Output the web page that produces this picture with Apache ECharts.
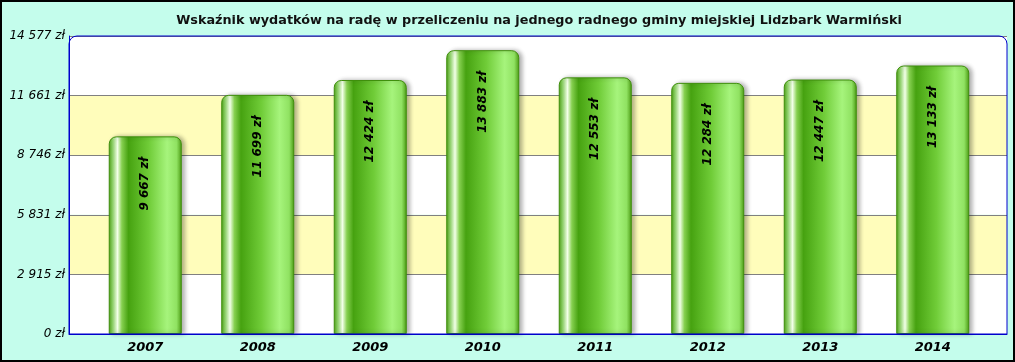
<!DOCTYPE html>
<html><head><meta charset="utf-8">
<script src="https://cdn.jsdelivr.net/npm/echarts@6/dist/echarts.min.js"></script>
<style>html,body{margin:0;padding:0;background:#c4fdec;}#c{width:1015px;height:362px;}</style>
</head><body><div id="c"></div>
<script>
const titleText = 'Wskaźnik wydatków na radę w przeliczeniu na jednego radnego gminy miejskiej Lidzbark Warmiński';
const categories = ['2007','2008','2009','2010','2011','2012','2013','2014'];
const values = [9667, 11699, 12424, 13883, 12553, 12284, 12447, 13133];
const yMax = 14576.6;
const ySteps = 5;

function fmt(v){
  return String(Math.round(v)).replace(/\B(?=(\d{3})+(?!\d))/g, ' ') + ' zł';
}

const G = {left:69, right:8, top:36, bottom:28};
const G2 = {left:89, right:26, top:36, bottom:28};
const chart = echarts.init(document.getElementById('c'), null, {renderer:'canvas'});
chart.setOption({
  backgroundColor:'#c4fdec',
  animation:false,
  title:{text:titleText, left:534, textAlign:'center', top:9,
    textStyle:{fontFamily:'DejaVu Sans', fontSize:12.8, fontWeight:'bold', color:'#111'}},
  grid:[G, G2],
  xAxis:[
    {gridIndex:0, type:'category', data:categories,
      axisLine:{show:true, lineStyle:{color:'#0000cc', width:1}},
      axisTick:{show:false}, axisLabel:{show:false}},
    {gridIndex:1, type:'category', data:categories,
      axisLine:{show:false}, axisTick:{show:false},
      axisLabel:{fontFamily:'DejaVu Sans', fontSize:13, fontWeight:'bold', fontStyle:'italic', color:'#000', margin:7}}
  ],
  yAxis:[
    {gridIndex:0, type:'value', min:0, max:yMax, interval:yMax/ySteps,
      axisLine:{show:true, lineStyle:{color:'#0000cc'}},
      axisTick:{show:false},
      axisLabel:{fontFamily:'DejaVu Sans', fontSize:12, fontStyle:'italic', color:'#000', margin:4, formatter:fmt},
      splitLine:{show:true, lineStyle:{color:'#808080', width:1}},
      splitArea:{show:true, areaStyle:{color:['#ffffff','#fffdbb']}}},
    {gridIndex:1, type:'value', min:0, max:yMax, interval:yMax/ySteps,
      axisLine:{show:false}, axisTick:{show:false}, axisLabel:{show:false}, splitLine:{show:false}}
  ],
  graphic:[
    {type:'rect', z:100, silent:true, shape:{x:G.left, y:G.top, width:1015-G.left-G.right, height:362-G.top-G.bottom, r:[8,8,0,0]},
      style:{fill:'none', stroke:'#0000cc', lineWidth:1}},
    {type:'rect', z:100, silent:true, shape:{x:1, y:1, width:1013, height:360},
      style:{fill:'none', stroke:'#000', lineWidth:2}}
  ],
  series:[{type:'bar', xAxisIndex:1, yAxisIndex:1, data:values, barWidth:73,
    itemStyle:{borderRadius:[7,7,0,0],
      color:new echarts.graphic.LinearGradient(0,0,1,0,[
        {offset:0, color:'#4c9e14'},
        {offset:0.05, color:'#90d868'},
        {offset:0.12, color:'#f2ffe8'},
        {offset:0.18, color:'#86d050'},
        {offset:0.27, color:'#46a210'},
        {offset:0.55, color:'#70cc38'},
        {offset:0.8, color:'#a6f47c'},
        {offset:0.93, color:'#90e262'},
        {offset:1, color:'#4a9a12'}]),
      borderColor:'#3f8f0c', borderWidth:1,
      shadowColor:'rgba(0,0,0,0.3)', shadowBlur:4, shadowOffsetX:3, shadowOffsetY:0},
    label:{show:true, position:'insideTop', distance:21, rotate:90, align:'right', verticalAlign:'middle',
      formatter:p=>fmt(p.value),
      fontFamily:'DejaVu Sans', fontSize:12, fontWeight:'bold', fontStyle:'italic', color:'#000'}
  }]
});
</script></body></html>
